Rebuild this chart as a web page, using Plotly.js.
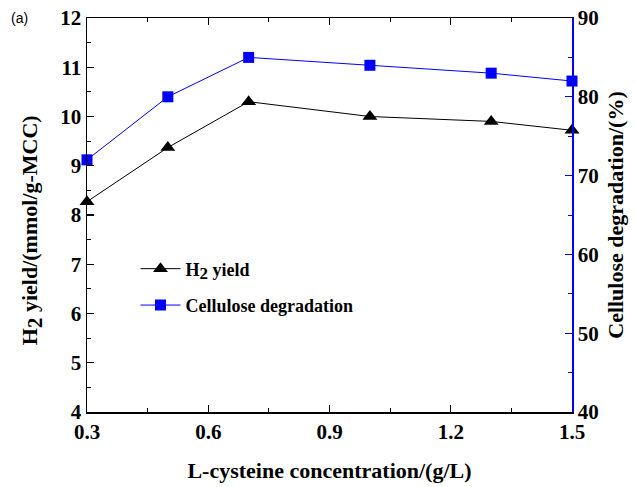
<!DOCTYPE html>
<html>
<head>
<meta charset="utf-8">
<script src="https://cdn.plot.ly/plotly-3.0.1.min.js"></script>
<style>html,body{margin:0;padding:0;background:#fff;}#chart{width:635px;height:487px;}</style>
</head>
<body>
<div id="chart"></div>
<script>
const concentration = [0.3, 0.5, 0.7, 1.0, 1.3, 1.5];
const h2Yield = [8.27, 9.37, 10.3, 10.0, 9.9, 9.72];
const celluloseDegradation = [72.0, 80.0, 85.0, 84.0, 83.0, 82.0];
const xTicks = [0.3, 0.6, 0.9, 1.2, 1.5];
const xTickLabels = ['0.3', '0.6', '0.9', '1.2', '1.5'];

const serif = 'Liberation Serif, Times New Roman, serif';

const traces = [
  {
    x: concentration, y: h2Yield, name: 'H<sub><span style="font-size:17px">2</span></sub> yield', legendgroup: 'a',
    type: 'scatter', mode: 'lines+markers', yaxis: 'y', cliponaxis: false,
    line: {color: '#000000', width: 1},
    marker: {symbol: 'triangle-up', size: 13, color: '#000000'}
  },
  {
    x: concentration, y: celluloseDegradation, name: 'Cellulose degradation', legendgroup: 'b',
    type: 'scatter', mode: 'lines+markers', yaxis: 'y2', cliponaxis: false,
    line: {color: '#0000ff', width: 1},
    marker: {symbol: 'square', size: 11, color: '#0000ff'}
  }
];

const tickFont = {family: serif, size: 21, color: '#000', weight: 'bold'};
const titleFont = {family: serif, size: 22, color: '#000', weight: 'bold'};

const layout = {
  width: 635, height: 487,
  margin: {l: 87, r: 63, t: 18, b: 75},
  paper_bgcolor: '#fff', plot_bgcolor: '#fff',
  showlegend: true,
  legend: {
    x: 0.10, y: 0.41, xanchor: 'left', yanchor: 'top',
    bgcolor: 'rgba(0,0,0,0)', borderwidth: 0,
    font: {family: serif, size: 18, color: '#000', weight: 'bold'},
    tracegroupgap: 10, itemwidth: 40
  },
  xaxis: {
    range: [0.3, 1.5], tickmode: 'array', tickvals: xTicks, ticktext: xTickLabels,
    showgrid: false, zeroline: false,
    showline: true, linecolor: '#000', linewidth: 1.5, mirror: 'ticks',
    ticks: 'inside', ticklen: 7, tickwidth: 1.2, tickcolor: '#000',
    minor: {dtick: 0.15, ticks: 'inside', ticklen: 4, tickwidth: 1, tickcolor: '#000'},
    tickfont: tickFont,
    title: {text: 'L-cysteine concentration/(g/L)', font: titleFont, standoff: 20}
  },
  yaxis: {
    range: [4, 12], dtick: 1, tick0: 4,
    showgrid: false, zeroline: false,
    showline: true, linecolor: '#000', linewidth: 1.5,
    ticks: 'inside', ticklen: 7, tickwidth: 1.2, tickcolor: '#000',
    minor: {dtick: 0.5, ticks: 'inside', ticklen: 4, tickwidth: 1, tickcolor: '#000'},
    tickfont: tickFont
  },
  yaxis2: {
    range: [40, 90], dtick: 10, tick0: 40,
    overlaying: 'y', side: 'right',
    showgrid: false, zeroline: false,
    showline: true, linecolor: '#0000ff', linewidth: 1.5,
    ticks: 'inside', ticklen: 7, tickwidth: 1.2, tickcolor: '#0000ff',
    minor: {dtick: 5, ticks: 'inside', ticklen: 4, tickwidth: 1, tickcolor: '#0000ff'},
    tickfont: tickFont,
    title: {text: 'Cellulose degradation/(%)', font: titleFont, standoff: 10}
  },
  annotations: [
    {
      text: '(a)', xref: 'paper', yref: 'paper', x: -0.16, y: 1.0,
      xanchor: 'left', yanchor: 'middle', showarrow: false,
      font: {family: 'Liberation Sans, Arial, sans-serif', size: 14, color: '#000'}
    },
    {
      text: 'H<sub><span style="font-size:21px">2</span></sub> yield/(mmol/g-MCC)',
      xref: 'paper', yref: 'paper', x: -0.113, y: 0.462,
      xanchor: 'center', yanchor: 'middle', textangle: -90, showarrow: false,
      font: titleFont
    }
  ]
};

Plotly.newPlot('chart', traces, layout, {displayModeBar: false, staticPlot: true});
</script>
</body>
</html>
